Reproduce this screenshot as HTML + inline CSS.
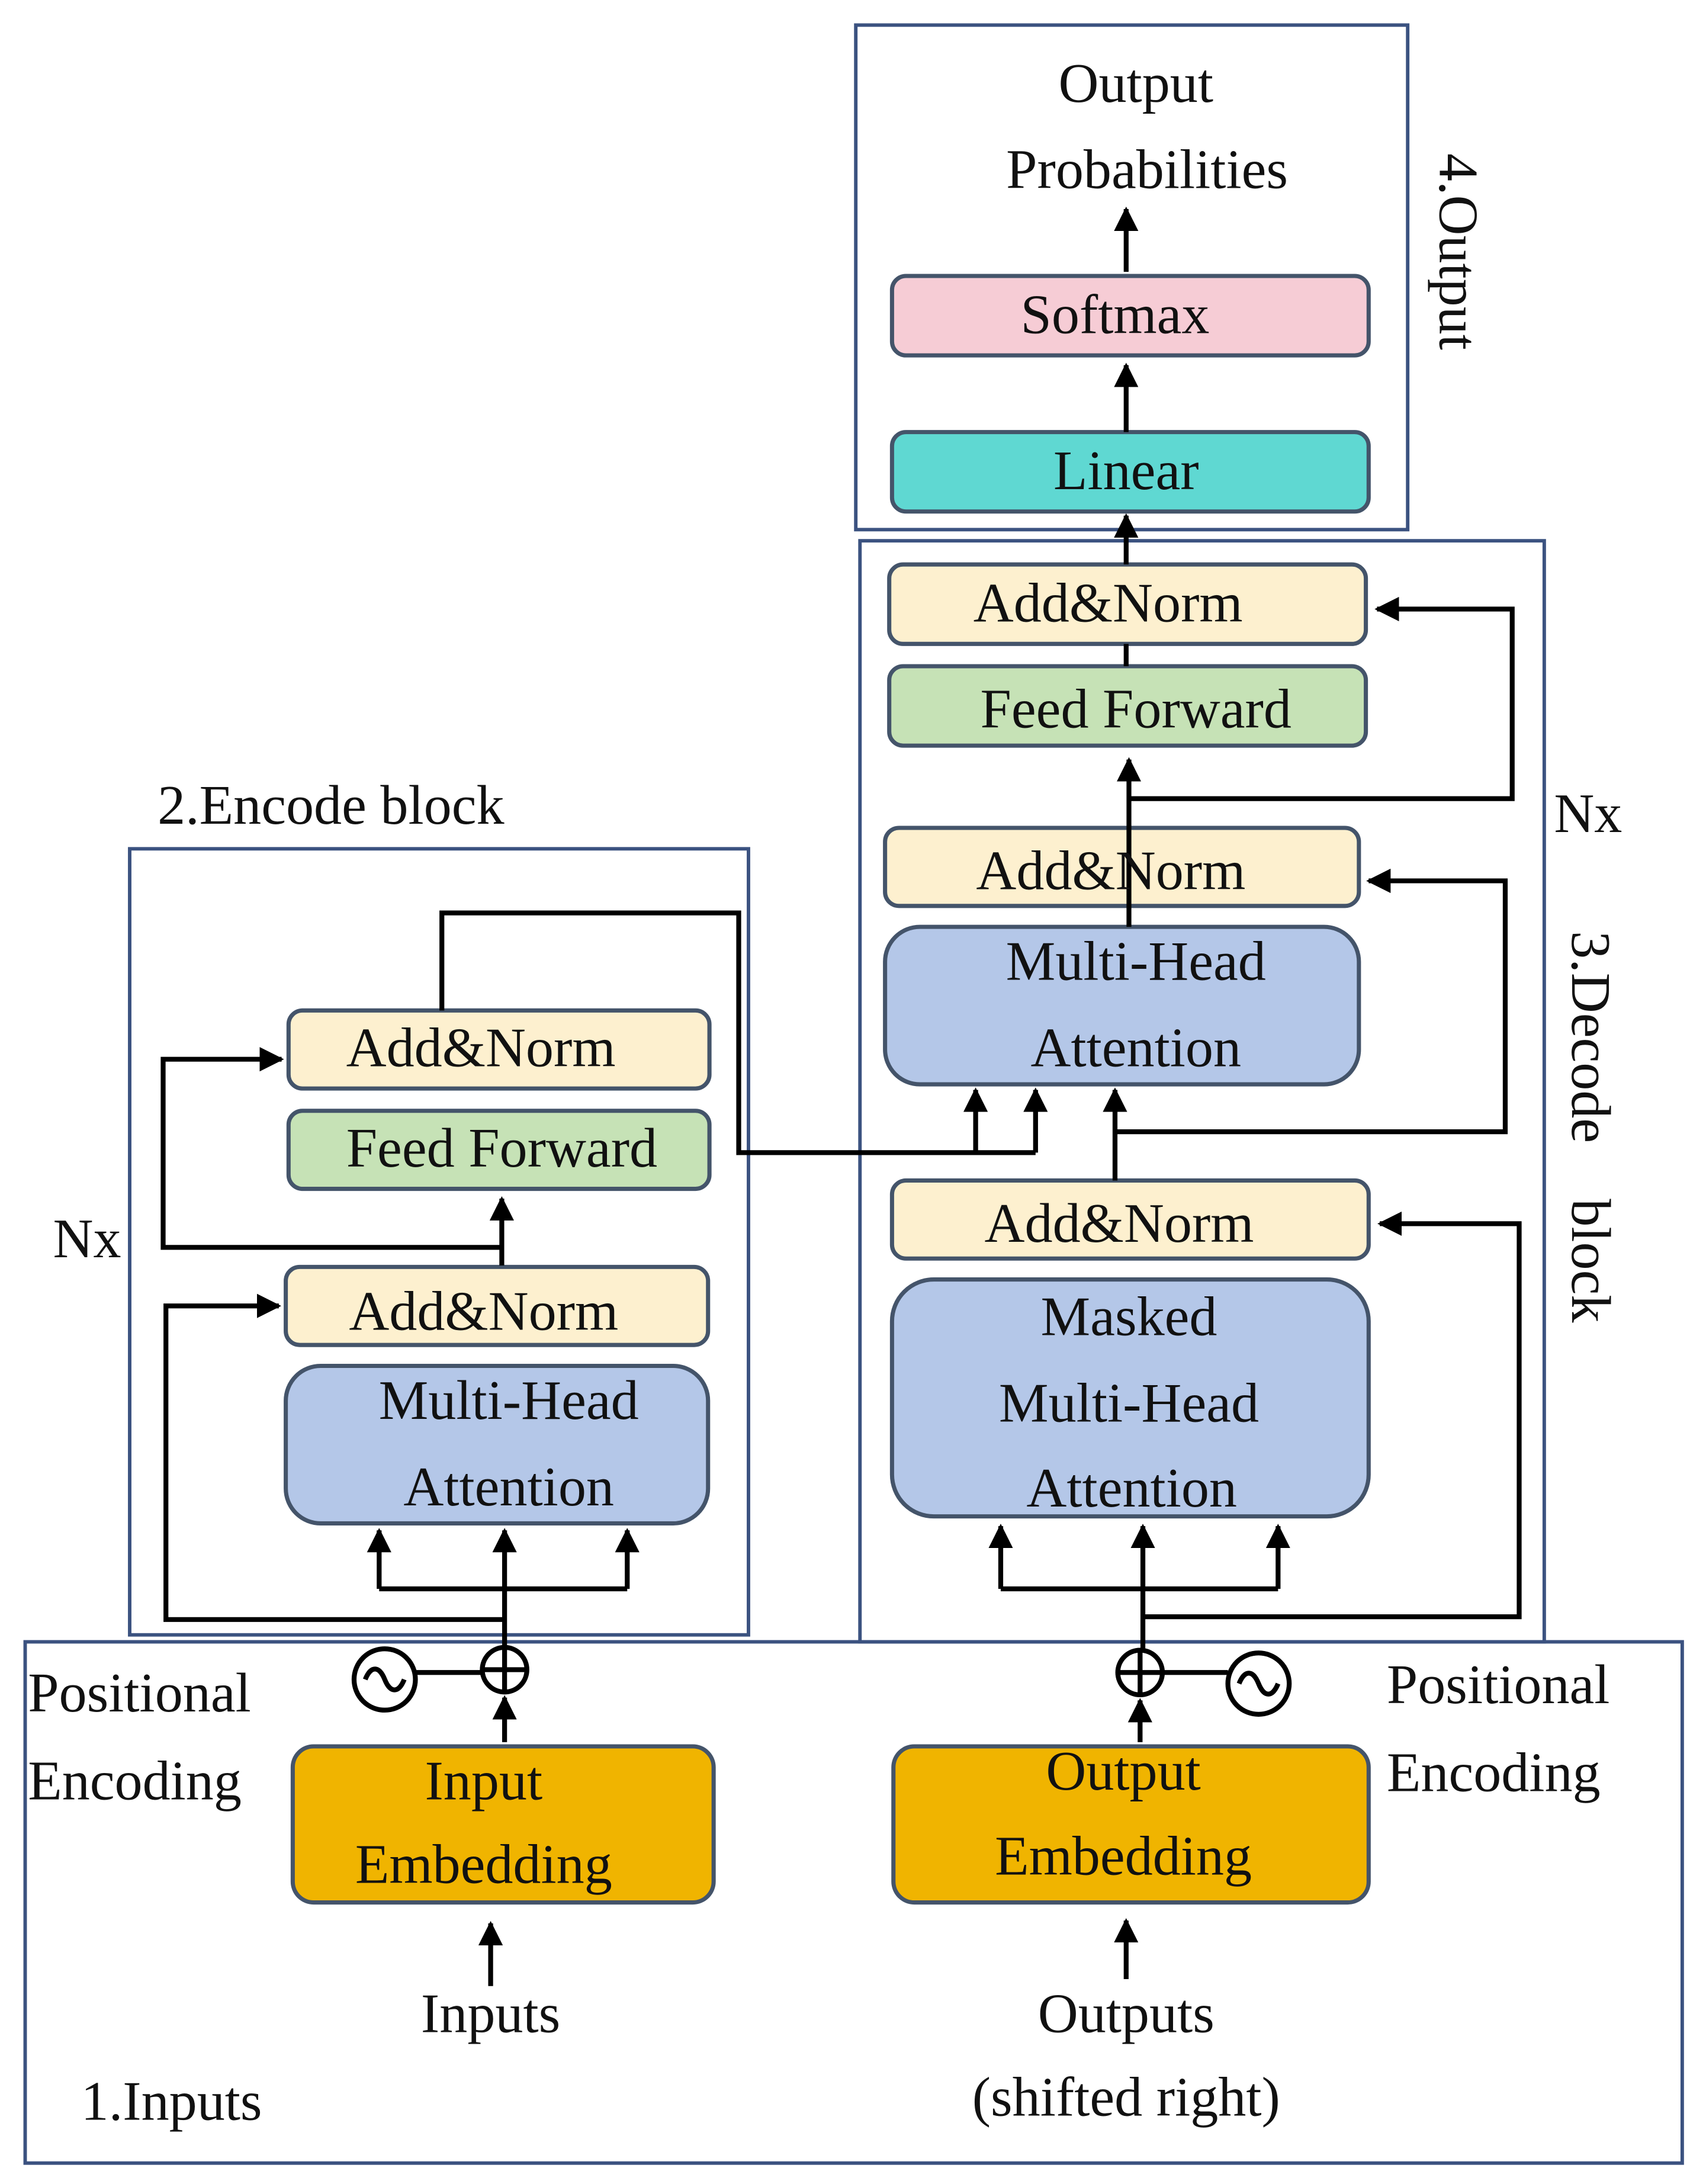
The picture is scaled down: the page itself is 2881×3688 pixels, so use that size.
<!DOCTYPE html>
<html><head><meta charset="utf-8"><style>
html,body{margin:0;padding:0;background:#fff}
svg{display:block}
text{font-family:"Liberation Serif",serif;font-size:40px;fill:#111}
</style></head><body>
<svg width="2881" height="3688" viewBox="0 0 1224 1567" xmlns="http://www.w3.org/2000/svg">
<defs>
<marker id="a" viewBox="0 0 10 10" refX="9" refY="5" markerWidth="5" markerHeight="5" orient="auto"><path d="M0,0L10,5L0,10z" fill="#000"/></marker>
</defs>
<g fill="none" stroke="#3b5280" stroke-width="2.5">
<rect x="614" y="18" width="396" height="362"/>
<rect x="617" y="388" width="491" height="790"/>
<rect x="93" y="609" width="444" height="564"/>
<rect x="18" y="1178" width="1189" height="374"/>
</g>
<g stroke="#44546a" stroke-width="3">
<rect x="640" y="198" width="342" height="57" rx="10" fill="#f6ccd5"/>
<rect x="640" y="310" width="342" height="57" rx="10" fill="#5fd8d2"/>
<rect x="638" y="405" width="342" height="57" rx="10" fill="#fdf0cf"/>
<rect x="638" y="478" width="342" height="57" rx="10" fill="#c6e2b6"/>
<rect x="635" y="594" width="340" height="56" rx="10" fill="#fdf0cf"/>
<rect x="635" y="665" width="340" height="113" rx="25" fill="#b4c7e8"/>
<rect x="640" y="847" width="342" height="56" rx="10" fill="#fdf0cf"/>
<rect x="640" y="918" width="342" height="170" rx="30" fill="#b4c7e8"/>
<rect x="207" y="725" width="302" height="56" rx="10" fill="#fdf0cf"/>
<rect x="207" y="797" width="302" height="56" rx="10" fill="#c6e2b6"/>
<rect x="205" y="909" width="303" height="56" rx="10" fill="#fdf0cf"/>
<rect x="205" y="980" width="303" height="113" rx="25" fill="#b4c7e8"/>
<rect x="210" y="1253" width="302" height="112" rx="15" fill="#f0b400"/>
<rect x="641" y="1253" width="341" height="112" rx="15" fill="#f0b400"/>
</g>
<g stroke="#000" stroke-width="3.5" fill="none">
<path d="M808 195V150" marker-end="url(#a)"/>
<path d="M808 310V262" marker-end="url(#a)"/>
<path d="M808 405V370" marker-end="url(#a)"/>
<path d="M808 478V462"/>
<path d="M810 665V545" marker-end="url(#a)"/>
<path d="M810 573H1085V437H988" marker-end="url(#a)"/>
<path d="M800 847V782" marker-end="url(#a)"/>
<path d="M800 812H1080V632H982" marker-end="url(#a)"/>
<path d="M700 827V782" marker-end="url(#a)"/>
<path d="M743 827V782" marker-end="url(#a)"/>
<path d="M317 725V655H530V827H743"/>
<path d="M718 1140H917"/>
<path d="M718 1140V1095" marker-end="url(#a)"/>
<path d="M820 1185V1095" marker-end="url(#a)"/>
<path d="M917 1140V1095" marker-end="url(#a)"/>
<path d="M820 1160H1090V878H990" marker-end="url(#a)"/>
<path d="M272 1140H450"/>
<path d="M272 1140V1098" marker-end="url(#a)"/>
<path d="M362 1182V1098" marker-end="url(#a)"/>
<path d="M450 1140V1098" marker-end="url(#a)"/>
<path d="M360 908V860" marker-end="url(#a)"/>
<path d="M360 895H117V760H202" marker-end="url(#a)"/>
<path d="M362 1162H119V937H200" marker-end="url(#a)"/>
<circle cx="276" cy="1205" r="22"/>
<path d="M262 1205c4-10 10-10 14 0s10 10 14 0"/>
<path d="M298 1200H346"/>
<circle cx="362" cy="1198" r="16"/><path d="M346 1198H378M362 1182V1214"/>
<path d="M362 1250V1218" marker-end="url(#a)"/>
<circle cx="903" cy="1208" r="22"/>
<path d="M889 1208c4-10 10-10 14 0s10 10 14 0"/>
<path d="M834 1200H881"/>
<circle cx="818" cy="1200" r="16"/><path d="M802 1200H834M818 1184V1216"/>
<path d="M818 1250V1220" marker-end="url(#a)"/>
<path d="M352 1425V1380" marker-end="url(#a)"/>
<path d="M808 1420V1378" marker-end="url(#a)"/>
</g>
<g text-anchor="middle">
<text x="815" y="73">Output</text>
<text x="823" y="135">Probabilities</text>
<text x="800" y="239">Softmax</text>
<text x="808" y="351">Linear</text>
<text x="795" y="446">Add&amp;Norm</text>
<text x="815" y="522">Feed Forward</text>
<text x="797" y="638">Add&amp;Norm</text>
<text x="815" y="703">Multi-Head</text>
<text x="815" y="765">Attention</text>
<text x="803" y="891">Add&amp;Norm</text>
<text x="810" y="958">Masked</text>
<text x="810" y="1020">Multi-Head</text>
<text x="812" y="1081">Attention</text>
<text x="345" y="765">Add&amp;Norm</text>
<text x="360" y="837">Feed Forward</text>
<text x="347" y="954">Add&amp;Norm</text>
<text x="365" y="1018">Multi-Head</text>
<text x="365" y="1080">Attention</text>
<text x="347" y="1291">Input</text>
<text x="347" y="1351">Embedding</text>
<text x="806" y="1284">Output</text>
<text x="806" y="1345">Embedding</text>
<text x="352" y="1458">Inputs</text>
<text x="808" y="1458">Outputs</text>
<text x="808" y="1518">(shifted right)</text>
</g>
<text x="113" y="591">2.Encode block</text>
<text x="1115" y="597">Nx</text>
<text x="38" y="902">Nx</text>
<text x="20" y="1228">Positional</text>
<text x="20" y="1291">Encoding</text>
<text x="995" y="1222">Positional</text>
<text x="995" y="1285">Encoding</text>
<text x="58" y="1521">1.Inputs</text>
<text transform="translate(1033,110) rotate(90)">4.Output</text>
<text transform="translate(1128,668) rotate(90)" xml:space="preserve">3.Decode    block</text>
</svg>
</body></html>
